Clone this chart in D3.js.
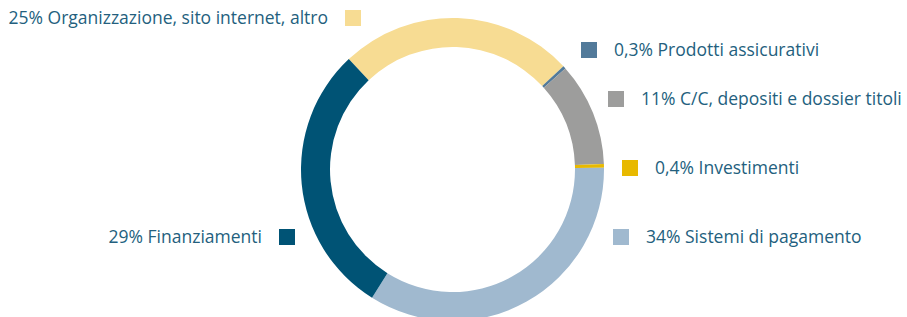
<!DOCTYPE html>
<html><head><meta charset="utf-8">
<script src="https://cdn.jsdelivr.net/npm/d3@7"></script>
<style>
html,body{margin:0;padding:0;background:#fff;}
svg{display:block;}
text{font-family:"Open Sans",sans-serif;font-size:17.5px;fill:#245f7e;}
</style></head>
<body><svg id="c" width="907" height="317"></svg>
<script>
const categories = ["Organizzazione, sito internet, altro","Prodotti assicurativi","C/C, depositi e dossier titoli","Investimenti","Sistemi di pagamento","Finanziamenti"];
const values = [25, 0.3, 11, 0.4, 34, 29];
const valueLabels = ["25%","0,3%","11%","0,4%","34%","29%"];
const colors = ["#f7dc93","#527a9a","#9d9d9c","#e8b900","#a0b9cf","#005375"];

// legend layout (square left x, square center y, side)
const legendLayout = [
  {sx:345, cy:18, side:"left"},
  {sx:581, cy:50, side:"right"},
  {sx:608, cy:99, side:"right"},
  {sx:622, cy:168, side:"right"},
  {sx:613, cy:237, side:"right"},
  {sx:279, cy:237, side:"left"}
];

const svg = d3.select("#c");
const cx = 452.5, cy = 169.5, rOuter = 151.5, rInner = 122.5;
const start = -43.2 * Math.PI/180;
const pie = d3.pie().sort(null).value(d=>d).startAngle(start).endAngle(start + 2*Math.PI);
const arc = d3.arc().innerRadius(rInner).outerRadius(rOuter);
const g = svg.append("g").attr("transform",`translate(${cx},${cy})`);
g.selectAll("path").data(pie(values)).join("path")
  .attr("d", arc).attr("fill",(d,i)=>colors[i]);

const sq = 16;
const leg = svg.append("g");
categories.forEach((c,i)=>{
  const L = legendLayout[i];
  leg.append("rect").attr("x",L.sx).attr("y",L.cy-sq/2).attr("width",sq).attr("height",sq).attr("fill",colors[i]);
  const t = leg.append("text").attr("y",L.cy).attr("dy","0.36em").text(valueLabels[i]+" "+c);
  if (L.side==="left") t.attr("x",L.sx-17).attr("text-anchor","end");
  else t.attr("x",L.sx+sq+17).attr("text-anchor","start");
});
</script></body></html>
